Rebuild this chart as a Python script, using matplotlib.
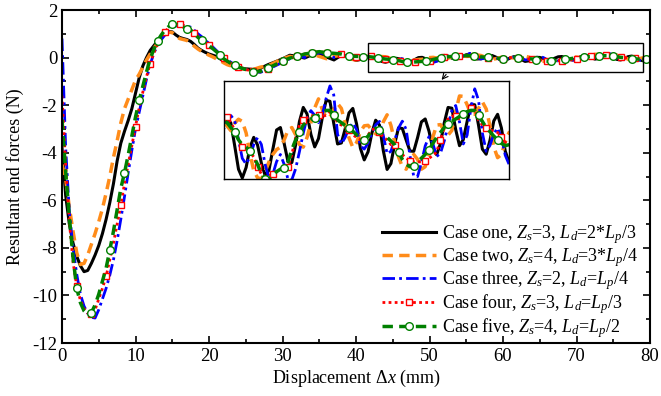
"""Resultant end forces vs displacement for five cases, with a zoomed inset."""
import numpy as np
import matplotlib
matplotlib.use('Agg')
import matplotlib.pyplot as plt
from matplotlib.patches import Rectangle

plt.rcParams['font.family'] = 'Liberation Serif'
plt.rcParams['mathtext.fontset'] = 'custom'
plt.rcParams['mathtext.rm'] = 'Liberation Serif'
plt.rcParams['mathtext.it'] = 'Liberation Serif:italic'
plt.rcParams['axes.unicode_minus'] = False

# displacement grid (mm): fine near the dip, coarse mid-way, fine in the zoomed part
disp = np.concatenate([np.arange(0, 24.01, 0.5), np.arange(25, 41.01, 1.0), np.arange(41.5, 80.01, 0.5)])

case_one = [-3.8, -5.8, -7.0, -7.8, -8.35, -8.75, -9.0, -8.95, -8.65, -8.3, -7.9, -7.4, -6.8, -6.1, -5.3, -4.35,
            -3.6, -3.1, -2.65, -2.15, -1.5, -0.85, -0.35, 0.0, 0.3, 0.5, 0.7, 0.87, 1.0, 1.1, 1.08, 0.95,
            0.85, 0.8, 0.76, 0.68, 0.55, 0.4, 0.3, 0.22, 0.15, 0.1, 0.05, -0.05, -0.15, -0.27, -0.33, -0.38, -0.42,
            -0.47, -0.5, -0.45, -0.3, -0.18, -0.05, 0.1, 0.05, -0.02, 0.12, 0.18, 0.02, -0.1, 0.1, 0.05, -0.12, -0.05,
            0.03, 0.05, 0.028, -0.064, -0.16, -0.196, -0.153, -0.072, -0.03, -0.061, -0.135, -0.186, -0.164, -0.08,
            0.0, 0.01, -0.056, -0.13, -0.133, -0.06, 0.035, 0.092, 0.065, -0.018, -0.069, -0.035, 0.051, 0.121,
            0.117, 0.027, -0.057, -0.053, 0.005, 0.07, 0.088, 0.024, -0.075, -0.122, -0.089, -0.013, 0.04, 0.02,
            -0.084, -0.161, -0.137, -0.056, 0.009, 0.006, -0.041, -0.086, -0.087, -0.031, 0.033, 0.045, -0.005,
            -0.076, -0.101, -0.055, 0.029, 0.092, 0.089, 0.002, -0.064, -0.039, 0.035, 0.103, 0.103, 0.019, -0.078,
            -0.099, -0.042, 0.037, 0.064, 0.008, -0.086, -0.131, -0.1, -0.04]

case_two = [-4.5, -5.1, -6.3, -7.3, -8.2, -8.7, -8.65, -8.3, -7.85, -7.4, -6.9, -6.35, -5.7, -5.0, -4.2, -3.5,
            -2.75, -2.15, -1.75, -1.35, -0.95, -0.7, -0.4, -0.1, 0.15, 0.4, 0.6, 0.8, 0.95, 1.07, 1.05, 0.92,
            0.8, 0.76, 0.72, 0.62, 0.48, 0.36, 0.26, 0.18, 0.1, 0.03, -0.05, -0.12, -0.22, -0.3, -0.35, -0.4, -0.45,
            -0.5, -0.5, -0.4, -0.35, -0.2, -0.05, 0.05, 0.0, 0.1, 0.15, 0.05, -0.05, 0.05, 0.1, -0.05, -0.1, 0.02,
            0.047, 0.016, -0.003, 0.028, 0.044, 0.035, -0.012, -0.096, -0.166, -0.195, -0.2, -0.17, -0.13, -0.1,
            -0.08, -0.07, -0.04, 0.0, 0.01, -0.02, -0.06, -0.07, -0.03, 0.03, 0.09, 0.127, 0.083, 0.051,
            0.054, 0.083, 0.108, 0.088, 0.027, -0.032, -0.071, -0.051, -0.007, 0.017, 0.019, 0.0, -0.016, -0.014,
            0.033, 0.062, 0.019, -0.05, -0.11, -0.15, -0.16, -0.13, -0.1, -0.12, -0.16, -0.15, -0.1,
            -0.03, 0.02, 0.022, -0.003, -0.021, -0.002, 0.076, 0.139, 0.137, 0.103, 0.064, 0.064, 0.089, 0.115,
            0.086, 0.017, -0.069, -0.113, -0.1, -0.049, -0.01, -0.024, -0.057]

case_three = [0.8, -3.8, -6.5, -8.0, -9.1, -9.95, -10.45, -10.75, -10.92, -10.95, -10.6, -10.15, -9.7, -9.15, -8.5,
              -7.7, -6.8, -5.85, -4.85, -3.9, -3.0, -2.3, -1.6, -0.9, -0.3, 0.2, 0.5, 0.75, 0.95, 1.15, 1.3, 1.33,
              1.37, 1.36, 1.32, 1.28, 1.15, 1.0, 0.88, 0.72, 0.6, 0.45, 0.3, 0.15, 0.05, -0.1, -0.2, -0.3, -0.38,
              -0.5, -0.6, -0.62, -0.5, -0.35, -0.2, -0.05, 0.08, 0.0, 0.1, 0.2, 0.15, 0.0, 0.05, 0.1, -0.05, -0.05,
              0.0, 0.035, 0.059, 0.038, -0.04, -0.116, -0.139, -0.11, -0.06, -0.031, -0.059, -0.141, -0.198, -0.181,
              -0.129, -0.1, -0.141, -0.202, -0.203, -0.158, -0.088, -0.013, 0.051, 0.079, 0.06, 0.03, 0.061, 0.129,
              0.18, 0.143, -0.018, -0.057, -0.03, 0.008, 0.029, 0.002, -0.064, -0.078, -0.054, -0.013, 0.021, 0.035,
              -0.022, -0.097, -0.087, -0.042, 0.008, 0.036, 0.002, -0.105, -0.19, -0.19, -0.134, -0.065, -0.027,
              -0.055, -0.108, -0.095, -0.045, 0.02, 0.079, 0.1, 0.033, -0.057, -0.021, 0.09, 0.168, 0.121, -0.012,
              -0.087, -0.063, -0.016, 0.008, -0.029, -0.103, -0.14, -0.11, -0.06]

case_four = [-1.6, -4.5, -6.9, -8.6, -9.6, -10.2, -10.55, -10.75, -10.8, -10.6, -10.15, -9.7, -9.2, -8.5, -7.8, -7.0,
             -6.2, -5.3, -4.5, -3.7, -2.9, -2.1, -1.45, -0.8, -0.25, 0.2, 0.55, 0.85, 1.09, 1.25, 1.35, 1.38,
             1.4, 1.35, 1.28, 1.2, 1.05, 0.9, 0.77, 0.63, 0.52, 0.4, 0.27, 0.12, -0.02, -0.13, -0.24, -0.33, -0.4,
             -0.5, -0.58, -0.6, -0.48, -0.32, -0.16, -0.03, 0.06, 0.15, 0.2, 0.25, 0.2, 0.17, 0.15, 0.08, 0.04, 0.03,
             0.05, 0.055, 0.03, 0.0, -0.04, -0.07, -0.08, -0.09, -0.11, -0.15, -0.18, -0.19, -0.185, -0.18,
             -0.17, -0.16, -0.155, -0.15, -0.1, -0.03, 0.02, 0.04, 0.05, 0.055, 0.06, 0.06, 0.055, 0.06,
             0.075, 0.06, 0.03, 0.02, 0.012, 0.0, -0.02, -0.03, -0.04, -0.04, -0.02, 0.0, 0.008, -0.01,
             -0.03, -0.04, -0.06, -0.06, -0.08, -0.1, -0.115, -0.125, -0.13, -0.13, -0.13, -0.125, -0.115,
             -0.105, -0.09, -0.04, 0.01, 0.045, 0.055, 0.058, 0.06, 0.055, 0.07, 0.09, 0.085, 0.04, 0.02,
             0.01, 0.0, -0.005, -0.01, -0.03, -0.05, -0.06, -0.06, -0.05]

case_five = [-2.6, -4.8, -6.7, -8.4, -9.7, -10.3, -10.65, -10.8, -10.72, -10.4, -9.95, -9.4, -8.85, -8.1, -7.3, -6.4,
             -5.5, -4.85, -4.1, -3.3, -2.5, -1.8, -1.2, -0.6, -0.05, 0.35, 0.7, 0.95, 1.15, 1.3, 1.4, 1.4,
             1.33, 1.28, 1.22, 1.16, 1.0, 0.85, 0.72, 0.6, 0.5, 0.38, 0.25, 0.1, -0.05, -0.15, -0.25, -0.33, -0.4,
             -0.5, -0.6, -0.58, -0.45, -0.3, -0.15, -0.02, 0.05, 0.15, 0.2, 0.25, 0.2, 0.18, 0.15, 0.08, 0.05, 0.04,
             0.04, 0.03, 0.01, -0.01, -0.04, -0.06, -0.07, -0.086, -0.11, -0.14, -0.18, -0.2, -0.2, -0.185,
             -0.17, -0.16, -0.155, -0.13, -0.08, -0.04, -0.01, 0.02, 0.035, 0.045, 0.05, 0.06, 0.07, 0.08,
             0.08, 0.06, 0.04, 0.03, 0.018, 0.01, -0.005, -0.02, -0.035, -0.04, -0.025, -0.005, 0.007, 0.0,
             -0.015, -0.03, -0.045, -0.06, -0.09, -0.12, -0.14, -0.15, -0.145, -0.13, -0.115, -0.1, -0.08,
             -0.055, -0.03, -0.01, 0.01, 0.025, 0.035, 0.045, 0.055, 0.065, 0.075, 0.08, 0.08, 0.06, 0.035,
             0.01, -0.007, -0.025, -0.04, -0.055, -0.064, -0.06, -0.055, -0.05]

labels = ['Case one, $Z_s$=3, $L_d$=2*$L_p$/3',
          'Case two, $Z_s$=4, $L_d$=3*$L_p$/4',
          'Case three, $Z_s$=2, $L_d$=$L_p$/4',
          'Case four, $Z_s$=3, $L_d$=$L_p$/3',
          'Case five, $Z_s$=4, $L_d$=$L_p$/2']

for s in (case_one, case_two, case_three, case_four, case_five):
    assert len(s) == len(disp), (len(s), len(disp))


def mark_idx(start, step):
    targets = np.arange(start, 80.01, step)
    return sorted(set(int(np.argmin(np.abs(disp - t))) for t in targets))


styles = [
    dict(color='black', lw=2.2, ls='-'),
    dict(color='#FF8C1A', lw=2.5, dashes=(3, 1.8)),
    dict(color='#0000FF', lw=2.0, dashes=(4.5, 1.5, 1, 1.5)),
    dict(color='#FF0000', lw=2.0, dashes=(1, 1.2), marker='s', ms=5, mfc='white', mec='#FF0000',
         mew=1.0, markevery=mark_idx(1.8, 2.0)),
    dict(color='#008000', lw=2.5, dashes=(3, 1.8), marker='o', ms=5.5, mfc='white', mec='#008000',
         mew=1.0, markevery=mark_idx(2.0, 2.15)),
]
series = [case_one, case_two, case_three, case_four, case_five]

fig = plt.figure(figsize=(6.61, 3.96), dpi=100)
ax = fig.add_axes([0.0938, 0.1338, 0.8896, 0.8409])
for ys, st, lab in zip(series, styles, labels):
    ax.plot(disp, ys, label=lab, **st)

ax.set_xlim(0, 80)
ax.set_ylim(-12, 2)
ax.set_xticks(np.arange(0, 81, 10))
ax.set_xticks(np.arange(0, 81, 5), minor=True)
ax.set_yticks(np.arange(-12, 2.1, 2))
ax.set_yticks(np.arange(-12, 2.1, 1), minor=True)
ax.tick_params(which='both', direction='in', top=True, right=True, labelsize=13.5, width=1.2)
ax.tick_params(which='major', length=5)
ax.tick_params(which='minor', length=3)
for sp in ax.spines.values():
    sp.set_linewidth(1.5)
ax.set_xlabel('Displacement $\\Delta x$ (mm)', fontsize=13, labelpad=2)
ax.set_ylabel('Resultant end forces (N)', fontsize=13, labelpad=6)

leg = ax.legend(loc='lower right', frameon=False, fontsize=13, handlelength=3.0,
                handletextpad=0.3, labelspacing=0.0, borderaxespad=0.1,
                bbox_to_anchor=(0.995, -0.018))

# zoom box + arrow to inset
ax.add_patch(Rectangle((41.6, -0.62), 37.4, 1.23, fill=False, ec='black', lw=1.0, zorder=6))
ax.annotate('', xy=(51.4, -1.03), xytext=(52.5, -0.62),
            arrowprops=dict(arrowstyle='->', lw=0.8, color='black'))

axin = fig.add_axes([0.3389, 0.548, 0.4312, 0.2475])
for ys, st in zip(series, styles):
    axin.plot(disp, ys, **st)
axin.set_xlim(41.6, 79.0)
axin.set_ylim(-0.2, 0.2)
axin.set_xticks([])
axin.set_yticks([])
for sp in axin.spines.values():
    sp.set_linewidth(1.0)

fig.savefig('out.png', dpi=100)
